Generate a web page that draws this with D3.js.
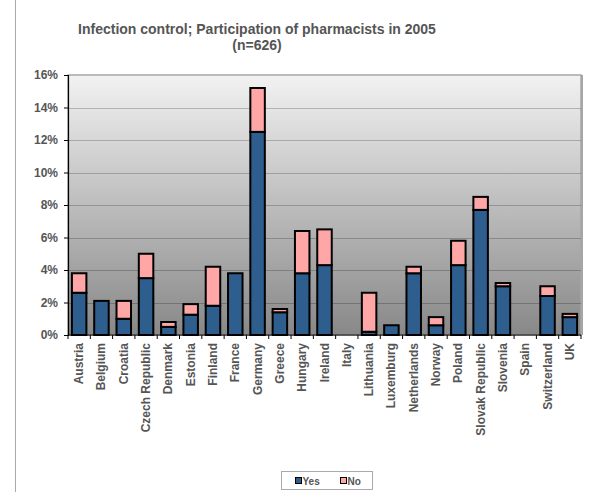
<!DOCTYPE html>
<html>
<head>
<meta charset="utf-8">
<script src="https://cdn.jsdelivr.net/npm/d3@7"></script>
<style>
  body { margin: 0; background: #fff; }
  text { font-family: "Liberation Sans", Arial, sans-serif; }
</style>
</head>
<body>
<div id="chart"></div>
<script>
const countries = ['Austria', 'Belgium', 'Croatia', 'Czech Republic', 'Denmark', 'Estonia',
  'Finland', 'France', 'Germany', 'Greece', 'Hungary', 'Ireland', 'Italy', 'Lithuania',
  'Luxemburg', 'Netherlands', 'Norway', 'Poland', 'Slovak Republic', 'Slovenia', 'Spain',
  'Switzerland', 'UK']
const yesValues = [2.6, 2.1, 1.0, 3.5, 0.5, 1.25, 1.8, 3.8, 12.5, 1.4, 3.8, 4.3, 0, 0.2,
  0.6, 3.8, 0.6, 4.3, 7.7, 3.0, 0, 2.4, 1.1]
const noValues = [1.2, 0, 1.1, 1.5, 0.3, 0.65, 2.4, 0, 2.7, 0.2, 2.6, 2.2, 0, 2.4,
  0, 0.4, 0.5, 1.5, 0.8, 0.2, 0, 0.6, 0.2]
const yTicks = [0, 2, 4, 6, 8, 10, 12, 14, 16]
const seriesNames = ['Yes', 'No']
const seriesColors = ['#2e5e8e', '#ffa6a6']

const width = 590, height = 492
const margin = { top: 75, right: 9, bottom: 157, left: 68 }
const innerW = width - margin.left - margin.right
const innerH = height - margin.top - margin.bottom

const svg = d3.select('#chart').append('svg')
  .attr('width', width)
  .attr('height', height)

// outer frame line on the left
svg.append('line')
  .attr('x1', 15.5).attr('x2', 15.5)
  .attr('y1', 0).attr('y2', height)
  .attr('stroke', '#aaa')

const title = svg.append('text')
  .attr('text-anchor', 'middle')
  .attr('font-weight', 'bold')
  .attr('font-size', 14)
  .attr('fill', '#555')
title.append('tspan').attr('x', 257).attr('y', 34).text('Infection control; Participation of pharmacists in 2005')
title.append('tspan').attr('x', 257).attr('y', 50).text('(n=626)')

const defs = svg.append('defs')
const grad = defs.append('linearGradient')
  .attr('id', 'bg').attr('x1', 0).attr('x2', 0).attr('y1', 0).attr('y2', 1)
grad.append('stop').attr('offset', '0%').attr('stop-color', '#f2f2f2')
grad.append('stop').attr('offset', '100%').attr('stop-color', '#888888')

const g = svg.append('g')
  .attr('transform', `translate(${margin.left},${margin.top})`)

g.append('rect')
  .attr('width', innerW).attr('height', innerH)
  .attr('fill', 'url(#bg)')
  .attr('stroke', '#a6a6a6')
  .attr('stroke-width', 1.5)

const x = d3.scaleBand()
  .domain(countries)
  .range([0, innerW])
  .paddingInner(0.35)
  .paddingOuter(0.175)

const y = d3.scaleLinear()
  .domain([0, 16])
  .range([innerH, 0])

// gridlines
g.append('g')
  .selectAll('line')
  .data(yTicks.filter(t => t > 0 && t < 16))
  .join('line')
  .attr('x1', 0).attr('x2', innerW)
  .attr('y1', d => Math.round(y(d)) + 0.5)
  .attr('y2', d => Math.round(y(d)) + 0.5)
  .attr('stroke', 'rgba(0,0,0,0.22)')

// right shadow edge
g.append('line')
  .attr('x1', innerW + 1).attr('x2', innerW + 1)
  .attr('y1', 0).attr('y2', innerH)
  .attr('stroke', '#a6a6a6').attr('stroke-width', 2)

const stacked = countries.map((c, i) => ({
  country: c,
  parts: [
    { key: 0, y0: 0, y1: yesValues[i] },
    { key: 1, y0: yesValues[i], y1: yesValues[i] + noValues[i] }
  ].filter(p => p.y1 > p.y0)
}))

g.append('g')
  .selectAll('g')
  .data(stacked)
  .join('g')
  .selectAll('rect')
  .data(d => d.parts.map(p => ({ ...p, country: d.country })))
  .join('rect')
  .attr('x', d => x(d.country))
  .attr('y', d => y(d.y1))
  .attr('width', x.bandwidth())
  .attr('height', d => y(d.y0) - y(d.y1))
  .attr('fill', d => seriesColors[d.key])
  .attr('stroke', '#000')
  .attr('stroke-width', 2)

// y axis
const yAxis = g.append('g')
  .call(d3.axisLeft(y).tickValues(yTicks).tickFormat(d => d + '%').tickSizeOuter(0).tickSize(4))
yAxis.select('.domain').attr('stroke', '#000').attr('stroke-width', 1.2)
yAxis.selectAll('.tick line').attr('stroke', '#000')
yAxis.selectAll('text')
  .attr('font-family', '"Liberation Sans", Arial, sans-serif')
  .attr('font-size', 12)
  .attr('font-weight', 'bold')
  .attr('fill', '#555')
  .attr('x', -10)

// x axis
const xAxis = g.append('g')
  .attr('transform', `translate(0,${innerH})`)
xAxis.append('line')
  .attr('x1', 0).attr('x2', innerW)
  .attr('stroke', '#000').attr('stroke-width', 1.2)
xAxis.selectAll('.sep')
  .data(d3.range(countries.length + 1))
  .join('line')
  .attr('class', 'sep')
  .attr('x1', i => i * x.step()).attr('x2', i => i * x.step())
  .attr('y1', 0).attr('y2', 4)
  .attr('stroke', '#000')
xAxis.selectAll('.lbl')
  .data(countries)
  .join('text')
  .attr('class', 'lbl')
  .attr('transform', d => `translate(${x(d) + x.bandwidth() / 2 + 4},8) rotate(-90)`)
  .attr('text-anchor', 'end')
  .attr('font-size', 12)
  .attr('font-weight', 'bold')
  .attr('fill', '#555')
  .text(d => d)

// legend
const legend = svg.append('g').attr('transform', 'translate(281.5,471.5)')
legend.append('rect')
  .attr('width', 91).attr('height', 18)
  .attr('fill', '#fff').attr('stroke', '#aaa')
const items = legend.selectAll('g')
  .data(seriesNames)
  .join('g')
  .attr('transform', (d, i) => `translate(${14 + i * 45},9)`)
items.append('rect')
  .attr('x', 0).attr('y', -3)
  .attr('width', 6).attr('height', 6)
  .attr('fill', (d, i) => seriesColors[i])
  .attr('stroke', '#000')
items.append('text')
  .attr('x', 7).attr('y', 4)
  .attr('font-size', 10)
  .attr('font-weight', 'bold')
  .attr('fill', '#555')
  .text(d => d)
</script>
</body>
</html>
